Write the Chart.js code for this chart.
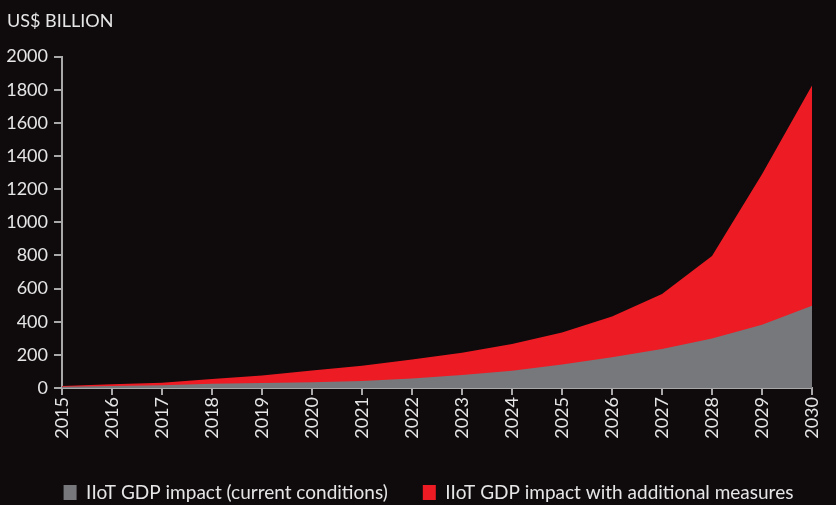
<!DOCTYPE html>
<html>
<head>
<meta charset="utf-8">
<script src="https://cdn.jsdelivr.net/npm/chart.js@4"></script>
<style>
html,body{margin:0;padding:0;background:#0f0b0c;overflow:hidden;}
#wrap{width:836px;height:505px;position:relative;overflow:hidden;}
</style>
</head>
<body>
<div id="wrap"><canvas id="c" width="836" height="512"></canvas></div>
<script>
const years = ['2015','2016','2017','2018','2019','2020','2021','2022','2023','2024','2025','2026','2027','2028','2029','2030'];
const currentConditions = [8, 12, 17, 25, 30, 35, 42, 58, 78, 104, 142, 185, 235, 299, 381, 497];
const additionalMeasures = [12, 22, 32, 55, 75, 105, 135, 172, 212, 265, 335, 432, 568, 797, 1290, 1825];
const yTicks = [0, 200, 400, 600, 800, 1000, 1200, 1400, 1600, 1800, 2000];

const FONT = "Lato, 'Liberation Sans', sans-serif";
const TXT = '#e6e6e6';
const AX = '#a9a9a9';

const legendShift = {
  id: 'legendShift',
  afterLayout(chart) {
    const lg = chart.legend;
    if (lg) { lg.left += 19; lg.right += 19; }
  }
};

new Chart(document.getElementById('c'), {
  type: 'line',
  data: {
    labels: years,
    datasets: [
      {
        label: 'IIoT GDP impact (current conditions)',
        data: currentConditions,
        backgroundColor: '#77787b',
        borderColor: '#77787b',
        borderWidth: 0,
        pointRadius: 0,
        tension: 0,
        fill: 'origin'
      },
      {
        label: 'IIoT GDP impact with additional measures',
        data: additionalMeasures,
        backgroundColor: '#ed1c24',
        borderColor: '#ed1c24',
        borderWidth: 0,
        pointRadius: 0,
        tension: 0,
        fill: 'origin'
      }
    ]
  },
  plugins: [legendShift],
  options: {
    responsive: false,
    animation: false,
    layout: { padding: { left: 7, right: 24, top: 0, bottom: 0 } },
    plugins: {
      tooltip: { enabled: false },
      title: {
        display: true,
        text: 'US$ BILLION',
        align: 'start',
        color: TXT,
        font: { family: FONT, size: 18, weight: 'normal' },
        padding: { top: 10, bottom: 25 }
      },
      legend: {
        position: 'bottom',
        labels: {
          color: TXT,
          font: { family: FONT, size: 19 },
          boxWidth: 13,
          boxHeight: 15,
          padding: 35
        }
      }
    },
    scales: {
      x: {
        offset: false,
        grid: { display: true, drawOnChartArea: false, drawTicks: true, tickLength: 7, color: AX, lineWidth: 2 },
        border: { display: true, color: AX, width: 2 },
        ticks: { color: TXT, font: { family: FONT, size: 18 }, minRotation: 90, maxRotation: 90, autoSkip: false, padding: 2 },
        afterFit: (s) => { s.height = 60; }
      },
      y: {
        min: 0,
        max: 2000,
        afterBuildTicks: (s) => { s.ticks = yTicks.map(v => ({ value: v })); },
        grid: { display: true, drawOnChartArea: false, drawTicks: true, tickLength: 8, color: AX, lineWidth: 2 },
        border: { display: true, color: AX, width: 2 },
        ticks: { color: TXT, font: { family: FONT, size: 18 }, padding: 6, callback: (v) => String(v) },
        afterFit: (s) => { s.width = 55; }
      }
    }
  }
});
</script>
</body>
</html>
